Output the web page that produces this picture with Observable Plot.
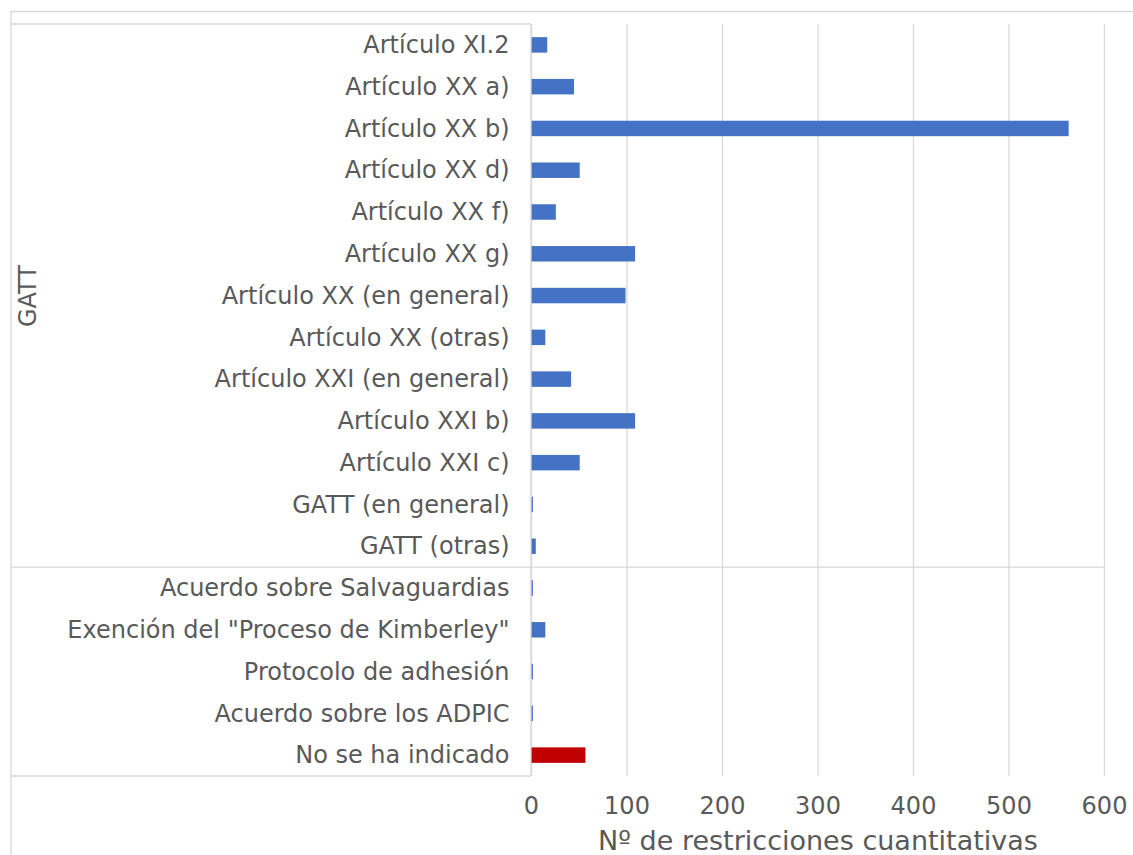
<!DOCTYPE html>
<html>
<head>
<meta charset="utf-8">
<script src="https://cdn.jsdelivr.net/npm/d3@7"></script>
<script src="https://cdn.jsdelivr.net/npm/@observablehq/plot@0.6"></script>
<style>
  html, body { margin: 0; padding: 0; background: #fff; }
  svg { display: block; }
</style>
</head>
<body>
<div id="chart"></div>
<script>
// ---- data ----
const categories = [
  "Artículo XI.2",
  "Artículo XX a)",
  "Artículo XX b)",
  "Artículo XX d)",
  "Artículo XX f)",
  "Artículo XX g)",
  "Artículo XX (en general)",
  "Artículo XX (otras)",
  "Artículo XXI (en general)",
  "Artículo XXI b)",
  "Artículo XXI c)",
  "GATT (en general)",
  "GATT (otras)",
  "Acuerdo sobre Salvaguardias",
  "Exención del \"Proceso de Kimberley\"",
  "Protocolo de adhesión",
  "Acuerdo sobre los ADPIC",
  "No se ha indicado"
];
const values = [17, 45, 563, 51, 26, 109, 99, 15, 42, 109, 51, 2, 5, 2, 15, 2, 2, 57];
const highlighted = ["No se ha indicado"];
const xTicks = [0, 100, 200, 300, 400, 500, 600];
const groupLabel = "GATT";
const groupSize = 13;           // first 13 categories belong to GATT
const groupMiddle = "Artículo XX (en general)";
const xTitle = "Nº de restricciones cuantitativas";

const data = categories.map((c, i) => ({label: c, value: values[i]}));

const BLUE = "#4472C4", RED = "#C00000", GRID = "#D9D9D9", TEXT = "#595959";
const W = 1133, H = 855;

const plot = Plot.plot({
  width: W,
  height: H,
  marginLeft: 531,
  marginRight: 29,
  marginTop: 24,
  marginBottom: 79,
  style: {fontFamily: "DejaVu Sans", fontSize: "24px", color: TEXT, background: "#fff"},
  x: {domain: [0, 600], ticks: xTicks, label: null},
  y: {domain: categories, paddingInner: 0.63, paddingOuter: 0.315, round: false, label: null},
  marks: [
    Plot.ruleX(xTicks, {stroke: GRID, strokeWidth: 1.3}),
    Plot.barX(data, {
      x: "value",
      y: "label",
      fill: d => highlighted.includes(d.label) ? RED : BLUE
    }),
    Plot.axisX({ticks: xTicks, tickSize: 0, tickPadding: 20, label: null, fill: TEXT}),
    Plot.axisY({tickSize: 0, tickPadding: 22, label: null, fill: TEXT}),
    Plot.text([xTitle], {frameAnchor: "bottom", dy: 65, fill: TEXT, fontSize: 27, lineAnchor: "middle"}),
    Plot.text([groupLabel], {y: [groupMiddle], frameAnchor: "left", dx: -503, rotate: -90, fill: TEXT, fontSize: 24, textAnchor: "middle", lineAnchor: "middle"})
  ]
});

document.getElementById("chart").appendChild(plot);

// category box lines derived from the plot's own scales
const ys = plot.scale("y");
const xs = plot.scale("x");
const off = (ys.step - ys.bandwidth) / 2;
const n = categories.length;
const boundary = k => k < n ? ys.apply(categories[k]) - off : ys.apply(categories[n - 1]) + ys.bandwidth + off;
const x0 = xs.apply(0), x1 = xs.apply(600);
const svg = d3.select(plot);
const g = svg.append("g").attr("stroke", GRID).attr("stroke-width", 1.3).attr("fill", "none");
const left = 11;
const seg = (xa, ya, xb, yb) => g.append("line").attr("x1", xa).attr("y1", ya).attr("x2", xb).attr("y2", yb);
// outer chart frame (top & left visible)
seg(left, 11.5, W, 11.5);
seg(left, 11.5, left, H);
// inner category box
seg(left, boundary(0), x0, boundary(0));
seg(left, boundary(groupSize), x1, boundary(groupSize));
seg(left, boundary(n), x0, boundary(n));
seg(x0, boundary(0), x0, boundary(n));
</script>
</body>
</html>
